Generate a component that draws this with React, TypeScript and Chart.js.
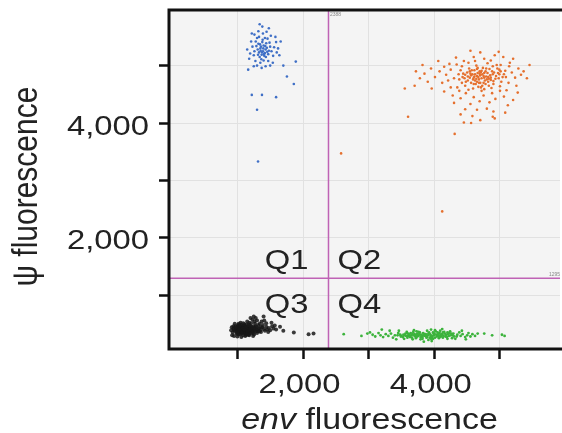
import React, { useEffect, useRef } from 'react';
import { Chart, registerables } from 'chart.js';

Chart.register(...registerables);

// ---- axis ranges & thresholds ----
const X_MIN = -41;
const X_MAX = 5914;
const Y_MIN = 62;
const Y_MAX = 5969;
const THRESHOLD_X = 2388;
const THRESHOLD_Y = 1295;

// ---- ticks ----
const xTickValues = [1000, 2000, 3000, 4000, 5000];
const xTickLabels = ['', '2,000', '', '4,000', ''];
const yTickValues = [1000, 2000, 3000, 4000, 5000];
const yTickLabels = ['', '2,000', '', '4,000', ''];
const quadrantLabels = ['Q1', 'Q2', 'Q3', 'Q4'];
const thresholdTags = ['2388', '1295'];

// ---- clusters (x = env, y = psi) ----
const bluePoints: [number, number][] = [
  [1390,5250],[1350,5300],[1420,5220],[1310,5280],[1450,5310],[1370,5190],[1400,5350],[1330,5230],[1480,5260],[1360,5330],
  [1410,5170],[1290,5340],[1440,5390],[1380,5410],[1340,5150],[1470,5200],[1320,5380],[1430,5280],[1260,5250],[1500,5330],
  [1395,5300],[1355,5260],[1425,5340],[1375,5230],[1405,5200],[1345,5370],[1455,5240],[1315,5190],[1385,5450],[1435,5150],
  [1280,5420],[1520,5250],[1365,5110],[1490,5400],[1300,5480],[1420,5480],[1250,5180],[1545,5170],[1400,5090],[1330,5500],
  [1460,5470],[1230,5330],[1560,5320],[1350,5050],[1470,5080],[1275,5080],[1510,5520],[1390,5560],[1320,5600],[1445,5590],
  [1210,5420],[1590,5410],[1600,5230],[1195,5210],[1540,5050],[1300,5000],[1430,4990],[1260,5540],[1580,5500],[1480,5650],
  [1380,5680],[1340,5720],[1620,5300],[1640,5180],[1180,5120],[1220,5560],[1500,5000],[1660,5420],[1370,4960],[1250,4990],
  [1755,4810],[1860,4680],[1220,4490],[1375,4490],[1590,4450],[1300,4230],[1315,3330],[1890,5070],[1165,4930],[1700,5000],[1150,5280],
];

const orangePoints: [number, number][] = [
  [4650,4820],[4720,4780],[4580,4850],[4800,4760],[4690,4900],[4620,4740],[4760,4870],[4540,4790],[4850,4830],[4700,4700],
  [4610,4920],[4780,4680],[4880,4900],[4500,4880],[4670,4630],[4930,4770],[4560,4700],[4740,4960],[4830,4650],[4460,4780],
  [4990,4850],[4640,5000],[4720,4560],[4890,4990],[4420,4700],[5020,4720],[4590,4600],[4810,5040],[4370,4850],[5080,4910],
  [4680,4760],[4750,4820],[4600,4790],[4820,4720],[4530,4950],[4900,4680],[4660,4870],[4780,4900],[4470,4650],[4950,5010],
  [4630,4680],[4710,4890],[4560,4830],[4860,4790],[4730,4650],[4510,4740],[4970,4870],[4650,4940],[4400,4920],[5040,4800],
  [4300,4780],[4250,4930],[4180,4840],[4120,4700],[4350,4620],[4230,5030],[4080,4900],[4010,4800],[3950,4950],[3900,4720],
  [3850,4860],[3780,4780],[3720,4900],[3700,4650],[3820,5010],[3960,4600],[4060,5080],[4150,4550],[4280,4480],[4400,4430],
  [5130,4700],[5180,4880],[5230,4790],[5280,4950],[5320,4840],[5150,5050],[5100,4570],[5250,4650],[5360,4900],[5410,4780],
  [5200,5120],[5050,5150],[4920,5180],[4760,5120],[4600,5150],[4450,5080],[4330,5140],[4980,5240],[4700,5230],[4550,5260],
  [4480,4520],[4600,4450],[4750,4480],[4880,4520],[5000,4560],[4690,4380],[4840,4360],[4550,4330],[4930,4420],[5060,4460],
  [4650,4230],[4800,4250],[4470,4240],[4900,4200],[5120,4310],[4580,4120],[4920,4080],[4700,4050],[4400,4150],[5200,4400],
  [4420,4990],[4520,5050],[4620,5080],[4860,5090],[5010,5010],[5140,4990],[4380,4560],[4300,4350],[5270,4530],[4250,4620],
  [4340,5020],[4150,4980],[4210,4740],[4440,4860],[4870,4610],[5000,4640],[5090,4800],[4990,4930],[4760,4590],[4520,4580],
  [4670,4800],[4730,4850],[4590,4760],[4810,4870],[4700,4830],[4640,4770],[4770,4740],[4550,4860],[4860,4750],[4720,4910],
  [4620,4850],[4790,4810],[4890,4850],[4510,4810],[4680,4700],[4940,4820],[4570,4920],[4750,4700],[4840,4940],[4470,4840],
  [4980,4780],[4660,4960],[4710,4620],[4900,4730],[4430,4800],[5010,4900],[4600,4680],[4820,4800],[4380,4760],[5060,4850],
  [4690,4860],[4760,4790],[4610,4810],[4830,4770],[4540,4900],[4910,4880],[4650,4720],[4790,4950],[4480,4720],[4960,4950],
  [3600,4110],[4310,3810],[2580,3470],[4120,2460],[4560,4000],[4890,4110],[4450,4010],[5080,4180],[3550,4600],[5450,5010],
];

const blackPoints: [number, number][] = [
  [1000,400],[1050,380],[1100,420],[1150,390],[1080,350],[1020,440],[1130,360],[1060,460],[1180,420],[960,380],
  [990,330],[1110,470],[1200,370],[1040,320],[1160,450],[940,420],[1070,400],[1120,330],[1010,480],[1190,340],
  [1230,410],[970,460],[1090,300],[1140,490],[1250,380],[930,350],[1030,360],[1170,310],[1060,420],[1210,450],
  [1080,440],[1120,400],[1000,360],[1150,430],[1040,410],[1100,370],[980,410],[1130,420],[1220,390],[1070,340],
  [1260,430],[1290,400],[1310,370],[1280,460],[1330,420],[1350,390],[1300,340],[1240,340],[1270,500],[1320,480],
  [1380,440],[1400,410],[1360,360],[1420,380],[1440,450],[1450,400],[1480,430],[1500,390],[1530,460],[1550,420],
  [1470,360],[1390,480],[1340,500],[1210,510],[1180,520],[1260,540],[1300,560],[1230,570],[1150,540],[1050,520],
  [920,300],[950,290],[1000,280],[1060,270],[1120,290],[1180,300],[1240,290],[1020,500],[960,500],[1090,510],
  [1570,470],[1590,400],[1520,520],[1440,510],[1370,540],[1410,560],[1280,600],[1250,630],[1400,630],[1200,600],
  [905,390],[915,440],[940,460],[1110,440],[1130,380],[1010,420],[1050,440],[1090,460],[1170,370],[1190,470],
  [985,395],[1025,375],[1065,395],[1105,355],[1145,410],[1185,385],[1225,365],[1265,395],[1005,455],[1045,345],
  [1085,425],[1125,455],[1165,335],[1205,425],[1245,455],[975,435],[1015,315],[1055,485],[1095,385],[1135,305],
  [1175,485],[1215,335],[1255,315],[995,345],[1035,465],[1075,375],[1115,395],[1155,365],[1195,405],[1235,435],
  [945,395],[1275,365],[1295,445],[1315,405],[1335,365],[1355,445],[1025,405],[1065,345],[1105,495],[1145,325],
  [1860,350],[2085,320],[2160,330],[1700,380],[1650,450],
];

const greenPoints: [number, number][] = [
  [3900,300],[3850,320],[3950,280],[3800,310],[4000,330],[3750,290],[4050,300],[3700,320],[4100,280],[3650,300],
  [3880,260],[3920,350],[3820,270],[3980,240],[3780,350],[4020,370],[3720,250],[4080,340],[3680,360],[4130,260],
  [3600,290],[4180,310],[3560,330],[4220,290],[3520,270],[4260,330],[3480,310],[4300,280],[3450,340],[4350,310],
  [3860,290],[3940,310],[3830,340],[3970,270],[3760,300],[4040,280],[3710,280],[4060,320],[3640,340],[4110,300],
  [3890,380],[3910,220],[3790,230],[4010,390],[3670,230],[4150,360],[3580,360],[4200,240],[3540,240],[4240,370],
  [3400,300],[4400,290],[3370,260],[4430,320],[3340,330],[4470,270],[3420,230],[4380,350],[3460,380],[4320,240],
  [3500,290],[4280,300],[3620,310],[4160,330],[3740,330],[3990,300],[3870,320],[3930,260],[3810,280],[4070,250],
  [3550,300],[4190,270],[3590,260],[4230,340],[3630,270],[4270,250],[3690,390],[4090,380],[3730,370],[3960,200],
  [3300,290],[4500,300],[3260,320],[4520,340],[3220,270],[4550,280],[3180,300],[4480,230],[3150,340],[4580,320],
  [3100,280],[3060,310],[3020,350],[4620,290],[4660,330],[3320,380],[4420,380],[3840,190],[3950,400],[4120,410],
  [3870,300],[3910,330],[3960,290],[3810,300],[4030,310],[3770,320],[4070,290],[3730,300],[4120,320],[3670,320],
  [3890,270],[3930,320],[3840,300],[3990,330],[3790,270],[4050,350],[3740,280],[4100,310],[3690,300],[4140,290],
  [3610,320],[4170,280],[3570,290],[4210,320],[3530,310],[4250,300],[3490,280],[4290,330],[3440,300],[4340,280],
  [3980,350],[3820,240],[4010,260],[3660,260],[4130,350],[3590,340],[4200,350],[3760,360],[3950,240],[4080,270],
  [2620,320],[2890,290],[2980,330],[4760,330],[4880,300],[5030,310],[5070,290],[3200,400],
];

const FONT = '"Liberation Sans", Arial, Helvetica, sans-serif';
const SX = 1.17; // horizontal stretch of the reference text
const TEXT = '#222';

function stretchedText(ctx: CanvasRenderingContext2D, text: string, x: number, y: number, align: CanvasTextAlign, font: string) {
  ctx.save();
  ctx.translate(x, y);
  ctx.scale(SX, 1);
  ctx.font = font;
  ctx.textAlign = align;
  ctx.textBaseline = 'alphabetic';
  ctx.fillStyle = TEXT;
  ctx.fillText(text, 0, 0);
  ctx.restore();
}

const decorPlugin = {
  id: 'decor',
  beforeDraw(chart: any) {
    const { ctx, chartArea: a } = chart;
    ctx.save();
    ctx.fillStyle = '#f4f4f4';
    ctx.fillRect(a.left, a.top, a.right - a.left, a.bottom - a.top);
    ctx.restore();
  },
  afterDraw(chart: any) {
    const { ctx, chartArea: a } = chart;
    const xs = chart.scales.x;
    const ys = chart.scales.y;

    // frame (left, top, bottom)
    ctx.save();
    ctx.strokeStyle = '#111';
    ctx.lineWidth = 3;
    ctx.beginPath();
    ctx.moveTo(a.right + 2, a.top);
    ctx.lineTo(a.left, a.top);
    ctx.lineTo(a.left, a.bottom);
    ctx.lineTo(a.right + 2, a.bottom);
    ctx.stroke();
    ctx.restore();

    // tick labels
    const tickFont = `28px ${FONT}`;
    xTickValues.forEach((v, i) => {
      const t = xTickLabels[i];
      if (!t) return;
      stretchedText(ctx, t, xs.getPixelForValue(v) - 3.5, a.bottom + 44, 'center', tickFont);
    });
    yTickValues.forEach((v, i) => {
      const t = yTickLabels[i];
      if (!t) return;
      stretchedText(ctx, t, a.left - 20, ys.getPixelForValue(v) + 11.5, 'right', tickFont);
    });

    // x title: italic "env" + " fluorescence"
    ctx.save();
    const cx = (a.left + a.right) / 2 + 5;
    ctx.translate(cx, a.bottom + 80);
    ctx.scale(SX, 1);
    ctx.fillStyle = TEXT;
    ctx.textBaseline = 'alphabetic';
    ctx.textAlign = 'left';
    const fItalic = `italic 29px ${FONT}`;
    const fNormal = `29px ${FONT}`;
    ctx.font = fItalic;
    const w1 = ctx.measureText('env').width;
    ctx.font = fNormal;
    const w2 = ctx.measureText(' fluorescence').width;
    const x0 = -(w1 + w2) / 2;
    ctx.font = fItalic;
    ctx.fillText('env', x0, 0);
    ctx.font = fNormal;
    ctx.fillText(' fluorescence', x0 + w1, 0);
    ctx.restore();

    // y title
    ctx.save();
    ctx.translate(37, (a.top + a.bottom) / 2 + 7);
    ctx.scale(SX, 1);
    ctx.rotate(-Math.PI / 2);
    ctx.font = `30px ${FONT}`;
    ctx.fillStyle = TEXT;
    ctx.textAlign = 'center';
    ctx.textBaseline = 'alphabetic';
    ctx.fillText('\u03C8 fluorescence', 0, 0);
    ctx.restore();

    // quadrant labels around the thresholds
    const tx = xs.getPixelForValue(THRESHOLD_X);
    const ty = ys.getPixelForValue(THRESHOLD_Y);
    const qFont = `28px ${FONT}`;
    stretchedText(ctx, quadrantLabels[0], tx - 20, ty - 9, 'right', qFont);
    stretchedText(ctx, quadrantLabels[1], tx + 9, ty - 9, 'left', qFont);
    stretchedText(ctx, quadrantLabels[2], tx - 20, ty + 35, 'right', qFont);
    stretchedText(ctx, quadrantLabels[3], tx + 9, ty + 35, 'left', qFont);

    // tiny threshold tags
    ctx.save();
    ctx.font = `5px ${FONT}`;
    ctx.fillStyle = '#888';
    ctx.textBaseline = 'top';
    ctx.textAlign = 'left';
    ctx.fillText(thresholdTags[0], tx + 1.5, a.top + 2);
    ctx.textAlign = 'right';
    ctx.textBaseline = 'bottom';
    ctx.fillText(thresholdTags[1], a.right, ty - 1);
    ctx.restore();
  },
};

const toXY = (pts: [number, number][]) => pts.map(([x, y]) => ({ x, y }));

export default function App() {
  const ref = useRef<HTMLCanvasElement | null>(null);

  useEffect(() => {
    if (!ref.current) return;
    const pointDs = (pts: [number, number][], color: string, r: number) => ({
      data: toXY(pts),
      backgroundColor: color,
      borderWidth: 0,
      pointRadius: r,
      pointHoverRadius: r,
      showLine: false,
    });
    const lineStyle = {
      showLine: true,
      pointRadius: 0,
      borderColor: '#bf63b5',
      borderWidth: 1.5,
      fill: false,
    };
    const chart = new Chart(ref.current, {
      type: 'scatter',
      data: {
        datasets: [
          { ...lineStyle, data: [{ x: THRESHOLD_X, y: Y_MIN }, { x: THRESHOLD_X, y: Y_MAX }] },
          { ...lineStyle, data: [{ x: X_MIN, y: THRESHOLD_Y }, { x: X_MAX, y: THRESHOLD_Y }] },
          pointDs(bluePoints, '#3f6fc6', 1.3),
          pointDs(orangePoints, '#e5702e', 1.3),
          pointDs(greenPoints, '#3cb33c', 1.4),
          pointDs(blackPoints, 'rgba(25,25,25,0.85)', 2.0),
        ] as any,
      },
      options: {
        animation: false,
        responsive: false,
        layout: { padding: { top: 10, right: 0, bottom: 0, left: 0 } },
        plugins: { legend: { display: false }, tooltip: { enabled: false } },
        scales: {
          x: {
            type: 'linear',
            min: X_MIN,
            max: X_MAX,
            afterBuildTicks: (s: any) => { s.ticks = xTickValues.map((v) => ({ value: v })); },
            afterFit: (s: any) => { s.height = 84; },
            grid: { color: '#e1e1e1', lineWidth: 1, tickColor: '#111', tickWidth: 2.5, tickLength: 10 },
            border: { display: false },
            ticks: { display: false },
          },
          y: {
            type: 'linear',
            min: Y_MIN,
            max: Y_MAX,
            afterBuildTicks: (s: any) => { s.ticks = yTickValues.map((v) => ({ value: v })); },
            afterFit: (s: any) => { s.width = 169; },
            grid: { color: '#e1e1e1', lineWidth: 1, tickColor: '#111', tickWidth: 2.5, tickLength: 10 },
            border: { display: false },
            ticks: { display: false },
          },
        },
      } as any,
      plugins: [decorPlugin],
    });
    return () => chart.destroy();
  }, []);

  return (
    <div style={{ position: 'absolute', left: 0, top: 0, width: 562, height: 433, background: '#fff' }}>
      <canvas ref={ref} width={562} height={433} style={{ display: 'block' }} />
    </div>
  );
}
